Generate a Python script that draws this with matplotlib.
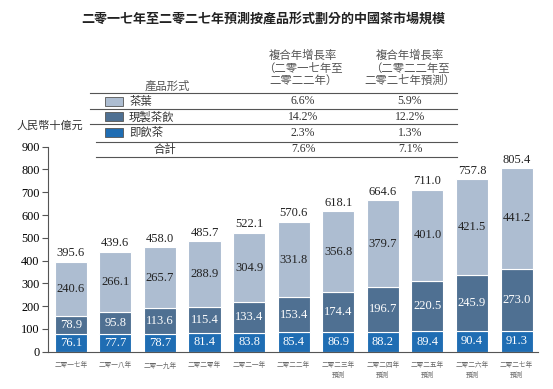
import numpy as np
import matplotlib.pyplot as plt
from matplotlib.lines import Line2D
from matplotlib.patches import Rectangle

# data
years = ['二零一七年', '二零一八年', '二零一九年', '二零二零年', '二零二一年', '二零二二年',
         '二零二三年\n預測', '二零二四年\n預測', '二零二五年\n預測', '二零二六年\n預測', '二零二七年\n預測']
rtd_tea = [76.1, 77.7, 78.7, 81.4, 83.8, 85.4, 86.9, 88.2, 89.4, 90.4, 91.3]
fresh_tea = [78.9, 95.8, 113.6, 115.4, 133.4, 153.4, 174.4, 196.7, 220.5, 245.9, 273.0]
tea_leaf = [240.6, 266.1, 265.7, 288.9, 304.9, 331.8, 356.8, 379.7, 401.0, 421.5, 441.2]
totals = [395.6, 439.6, 458.0, 485.7, 522.1, 570.6, 618.1, 664.6, 711.0, 757.8, 805.4]

forms = ['茶葉', '現製茶飲', '即飲茶']
cagr_17_22 = ['6.6%', '14.2%', '2.3%']
cagr_22_27 = ['5.9%', '12.2%', '1.3%']
cagr_total = ['7.6%', '7.1%']

c_leaf = '#adbdd1'
c_fresh = '#4f7092'
c_rtd = '#1f6db3'
colors = [c_leaf, c_fresh, c_rtd]

SERIF = ['Liberation Serif', 'Noto Sans CJK TC']
CJK = ['Noto Sans CJK TC', 'DejaVu Sans']

W, H = 553, 389
fig = plt.figure(figsize=(W / 100, H / 100), dpi=100)


def fx(px):
    return px / W


def fy(py):
    return 1 - py / H


ax = fig.add_axes([fx(48), fy(351.7), fx(538) - fx(48), fy(146.7) - fy(351.7)])

x = np.arange(len(years))
bw = 0.72
kw = dict(width=bw, edgecolor='white', linewidth=0.8)
ax.bar(x, rtd_tea, color=c_rtd, **kw)
ax.bar(x, fresh_tea, bottom=rtd_tea, color=c_fresh, **kw)
b2 = np.array(rtd_tea) + np.array(fresh_tea)
ax.bar(x, tea_leaf, bottom=b2, color=c_leaf, **kw)

for i in range(len(x)):
    ax.text(x[i], rtd_tea[i] / 2, f'{rtd_tea[i]:.1f}', ha='center', va='center',
            color='white', fontsize=9, family=SERIF)
    ax.text(x[i], rtd_tea[i] + fresh_tea[i] / 2, f'{fresh_tea[i]:.1f}', ha='center',
            va='center', color='white', fontsize=9, family=SERIF)
    ax.text(x[i], b2[i] + tea_leaf[i] / 2, f'{tea_leaf[i]:.1f}', ha='center',
            va='center', color='#222222', fontsize=9, family=SERIF)
    ax.text(x[i], totals[i] + 10, f'{totals[i]:.1f}', ha='center', va='bottom',
            color='#222222', fontsize=9, family=SERIF)

ax.set_xlim(-0.51, 10.48)
ax.set_ylim(0, 900)
ax.set_yticks(range(0, 901, 100))
ax.set_yticklabels([str(v) for v in range(0, 901, 100)], family=SERIF, fontsize=8.8)
ax.set_xticks(x)
ax.set_xticklabels(years, family=CJK, fontsize=4.8, color='#666666', linespacing=1.3)
ax.tick_params(axis='x', length=0, pad=7)
ax.tick_params(axis='y', length=4, width=0.8, color='#555555', pad=2)
for s in ['top', 'right']:
    ax.spines[s].set_visible(False)
for s in ['left', 'bottom']:
    ax.spines[s].set_color('#555555')
    ax.spines[s].set_linewidth(0.8)

# title
fig.text(fx(263), fy(20), '二零一七年至二零二七年預測按產品形式劃分的中國茶市場規模',
         ha='center', va='center', fontsize=9.4, fontweight='bold', family=CJK, color='#222222')

# unit label
fig.text(fx(50), fy(126), '人民幣十億元', ha='center', va='center', fontsize=8,
         family=CJK, color='#333333')

# table header
col1, col2 = 303, 410
fig.text(fx(167), fy(86), '產品形式', ha='center', va='center', fontsize=8.2, family=CJK, color='#555555')
fig.text(fx(col1), fy(68), '複合年增長率\n（二零一七年至\n二零二二年）', ha='center', va='center',
         fontsize=8.2, family=CJK, color='#555555', linespacing=1.2)
fig.text(fx(col2), fy(68), '複合年增長率\n（二零二二年至\n二零二七年預測）', ha='center', va='center',
         fontsize=8.2, family=CJK, color='#555555', linespacing=1.2)

line_kw = dict(color='#555555', linewidth=0.8, transform=fig.transFigure)
for yy in [93.3, 109.3, 124.3]:
    fig.add_artist(Line2D([fx(90), fx(457)], [fy(yy), fy(yy)], **line_kw))
for yy in [141.7, 156.7]:
    fig.add_artist(Line2D([fx(96), fx(457)], [fy(yy), fy(yy)], **line_kw))

row_y = [101.3, 116.8, 132.5]
for i, ry in enumerate(row_y):
    fig.add_artist(Rectangle((fx(105), fy(ry + 4.5)), fx(18), fy(0) - fy(9),
                             facecolor=colors[i], edgecolor='#555555', linewidth=0.6,
                             transform=fig.transFigure))
    fig.text(fx(129), fy(ry), forms[i], ha='left', va='center', fontsize=8.2, family=CJK, color='#333333')
    fig.text(fx(col1), fy(ry), cagr_17_22[i], ha='center', va='center', fontsize=8.5,
             family=SERIF, color='#333333')
    fig.text(fx(col2), fy(ry), cagr_22_27[i], ha='center', va='center', fontsize=8.5,
             family=SERIF, color='#333333')

fig.text(fx(165), fy(149.2), '合計', ha='center', va='center', fontsize=8.2, family=CJK, color='#333333')
fig.text(fx(col1), fy(149.2), cagr_total[0], ha='center', va='center', fontsize=8.5,
         family=SERIF, color='#333333')
fig.text(fx(col2), fy(149.2), cagr_total[1], ha='center', va='center', fontsize=8.5,
         family=SERIF, color='#333333')

fig.savefig('out.png', dpi=100)
